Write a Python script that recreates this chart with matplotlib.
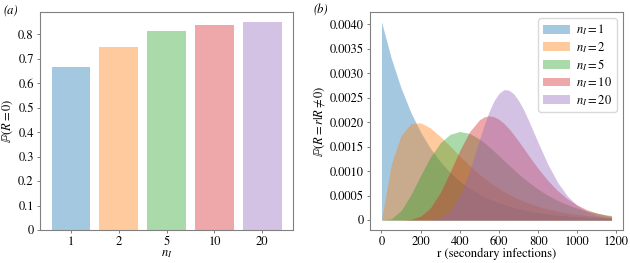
import matplotlib
matplotlib.use("Agg")
import matplotlib.pyplot as plt
from matplotlib.ticker import FuncFormatter

plt.rcParams['font.family'] = ['STIXGeneral', 'DejaVu Serif']
plt.rcParams['mathtext.fontset'] = 'stix'

# panel (a)
n_labels = ['1', '2', '5', '10', '20']
p_zero = [0.667, 0.750, 0.815, 0.839, 0.849]

# panel (b)
r_vals = [0, 50, 100, 150, 200, 250, 300, 350, 400, 450, 500, 525, 550, 575,
          600, 625, 650, 675, 700, 725, 750, 800, 850, 900, 950, 1000, 1050,
          1100, 1150, 1175]
p_n1 = [0.00405, 0.003305, 0.002697, 0.002200, 0.001796, 0.001465, 0.001196,
        0.000976, 0.000796, 0.000650, 0.000530, 0.000479, 0.000433, 0.000391,
        0.000353, 0.000319, 0.000288, 0.000261, 0.000235, 0.000213, 0.000192,
        0.000157, 0.000128, 0.000104, 0.0000851, 0.0000694, 0.0000567,
        0.0000462, 0.0000377, 0.000034]
p_n2 = [0.0, 0.001144, 0.001733, 0.001969, 0.001988, 0.001883, 0.001711,
        0.001513, 0.001309, 0.001116, 0.000939, 0.000858, 0.000782, 0.000712,
        0.000647, 0.000586, 0.000531, 0.000480, 0.000433, 0.000390, 0.000351,
        0.000284, 0.000228, 0.000183, 0.000147, 0.000117, 0.0000929,
        0.0000737, 0.0000583, 0.0000518]
p_n5 = [0.0, 0.0000262, 0.000192, 0.000514, 0.000911, 0.001288, 0.001578,
        0.001752, 0.001810, 0.001771, 0.001657, 0.001582, 0.001498, 0.001408,
        0.001315, 0.001220, 0.001126, 0.001034, 0.000945, 0.000860, 0.000779,
        0.000632, 0.000506, 0.000400, 0.000313, 0.000243, 0.000186,
        0.000142, 0.000107, 0.0000931]
p_n10 = [0.0, 0.0, 0.0000009, 0.0000139, 0.0000784, 0.000251, 0.000561,
         0.000979, 0.001424, 0.001805, 0.002049, 0.002110, 0.002131, 0.002111,
         0.002059, 0.001977, 0.001871, 0.001749, 0.001613, 0.001474, 0.001330,
         0.001055, 0.000808, 0.000600, 0.000434, 0.000307, 0.000212,
         0.000143, 0.0000952, 0.0000771]
p_n20 = [0.0, 0.0, 0.0, 0.0, 0.0000005, 0.0000068, 0.000045, 0.000180,
         0.000489, 0.001004, 0.001637, 0.001946, 0.002222, 0.002440, 0.002589,
         0.002665, 0.002655, 0.002584, 0.002444, 0.002266, 0.002049, 0.001584,
         0.001140, 0.000770, 0.000490, 0.000297, 0.000172, 0.0000958,
         0.0000513, 0.0000371]

colors = ['#1f77b4', '#ff7f0e', '#2ca02c', '#d62728', '#9467bd']
series = [p_n1, p_n2, p_n5, p_n10, p_n20]

fig = plt.figure(figsize=(6.3, 2.63), dpi=100)
ax1 = fig.add_axes([0.0635, 0.1255, 0.4016, 0.829])
ax2 = fig.add_axes([0.5873, 0.1255, 0.4016, 0.829])

ax1.bar(range(len(n_labels)), p_zero, width=0.8, color=colors, alpha=0.4)
ax1.set_xticks(range(len(n_labels)))
ax1.set_xticklabels(n_labels)
ax1.set_yticks([0, 0.1, 0.2, 0.3, 0.4, 0.5, 0.6, 0.7, 0.8])
ax1.yaxis.set_major_formatter(FuncFormatter(lambda v, p: '0' if abs(v) < 1e-12 else '%.1f' % v))
ax1.set_xlabel('$n_I$', fontsize=9, labelpad=0)
ax1.set_ylabel(r'$\mathbb{P}(R = 0)$', fontsize=9, labelpad=2)

for s, c, lab in zip(series, colors, n_labels):
    ax2.fill_between(r_vals, 0, s, color=c, alpha=0.4, linewidth=0, label='$n_I = %s$' % lab)
ax2.set_xticks([0, 200, 400, 600, 800, 1000, 1200])
ax2.set_yticks([0, 0.0005, 0.001, 0.0015, 0.002, 0.0025, 0.003, 0.0035, 0.004])
ax2.yaxis.set_major_formatter(FuncFormatter(lambda v, p: '0' if abs(v) < 1e-12 else '%.4f' % v))
ax2.set_xlabel('r (secondary infections)', fontsize=9, labelpad=0)
ax2.set_ylabel(r'$\mathbb{P}(R = r | R \neq 0)$', fontsize=9, labelpad=2)
ax2.legend(loc='upper right', fontsize=9, handlelength=2.2, borderpad=0.35,
           labelspacing=0.2, handletextpad=0.5, framealpha=1, edgecolor='0.85')

for ax in (ax1, ax2):
    ax.tick_params(labelsize=9, length=2.5, width=0.6, color='0.4', pad=2)
    for sp in ax.spines.values():
        sp.set_color('0.5')
        sp.set_linewidth(0.8)

fig.text(0.005, 0.985, '(a)', fontsize=9, style='italic', va='top')
fig.text(0.497, 0.985, '(b)', fontsize=9, style='italic', va='top')

fig.savefig('out.png', dpi=100)
